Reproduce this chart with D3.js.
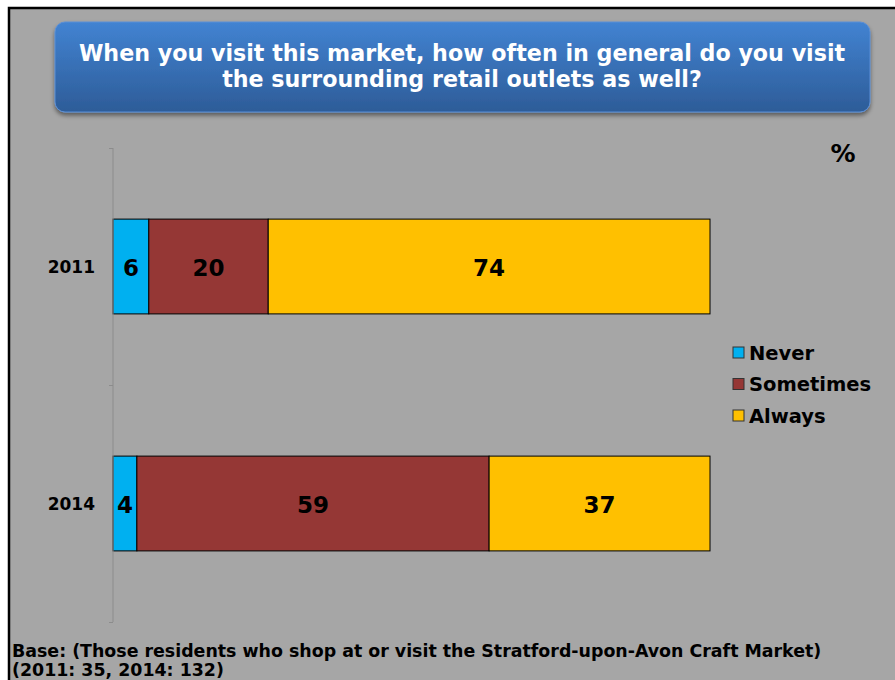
<!DOCTYPE html>
<html><head><meta charset="utf-8">
<script src="https://cdn.jsdelivr.net/npm/d3@7"></script>
<style>html,body{margin:0;padding:0;background:#fff;}svg{display:block;}</style>
</head><body>
<script>
const categories = ["2011", "2014"];
const seriesNames = ["Never", "Sometimes", "Always"];
const never = [6, 4];
const sometimes = [20, 59];
const always = [74, 37];
const seriesColors = ["#00B0F0", "#953735", "#FFC000"];
const titleLines = ["When you visit this market, how often in general do you visit", "the surrounding retail outlets as well?"];
const footLines = ["Base: (Those residents who shop at or visit the Stratford-upon-Avon Craft Market)", "(2011: 35, 2014: 132)"];

const W = 895, H = 680;
const svg = d3.select("body").append("svg").attr("width", W).attr("height", H);
const defs = svg.append("defs");
const grad = defs.append("linearGradient").attr("id", "tg").attr("x1", 0).attr("y1", 0).attr("x2", 0).attr("y2", 1);
grad.append("stop").attr("offset", "0%").attr("stop-color", "#4283D2");
grad.append("stop").attr("offset", "100%").attr("stop-color", "#2D5C98");
const sh = defs.append("filter").attr("id", "sh").attr("x", "-5%").attr("y", "-20%").attr("width", "110%").attr("height", "150%");
sh.append("feDropShadow").attr("dx", 0).attr("dy", 3).attr("stdDeviation", 2).attr("flood-color", "#000").attr("flood-opacity", 0.45);

const ff = "Verdana, 'DejaVu Sans', sans-serif";

// panel
svg.append("rect").attr("x", 9).attr("y", 8).attr("width", W).attr("height", H).attr("fill", "#A6A6A6")
  .attr("stroke", "#000").attr("stroke-width", 2.5);

// title box
svg.append("rect").attr("x", 55).attr("y", 22).attr("width", 815).attr("height", 90).attr("rx", 10)
  .attr("fill", "url(#tg)").attr("stroke", "#5B8FD6").attr("stroke-width", 1).attr("filter", "url(#sh)");
svg.append("g").selectAll("text").data(titleLines).join("text")
  .attr("x", 462).attr("y", (d, i) => 61 + i * 26).attr("text-anchor", "middle")
  .attr("font-family", ff).attr("font-weight", "bold").attr("font-size", 22.2).attr("fill", "#fff")
  .text(d => d);

// data
const data = categories.map((c, i) => ({ cat: c, Never: never[i], Sometimes: sometimes[i], Always: always[i] }));
const stack = d3.stack().keys(seriesNames)(data);

const x = d3.scaleLinear().domain([0, 100]).range([113, 710]);
const y = d3.scaleBand().domain(categories).range([148, 622]).paddingInner(0).paddingOuter(0);
const barH = y.bandwidth() * 0.4;
const color = d3.scaleOrdinal().domain(seriesNames).range(seriesColors);

const g = svg.append("g");
stack.forEach(s => {
  g.selectAll(null).data(s).join("rect")
    .attr("x", d => x(d[0])).attr("width", d => x(d[1]) - x(d[0]))
    .attr("y", d => y(d.data.cat) + (y.bandwidth() - barH) / 2).attr("height", barH)
    .attr("fill", color(s.key)).attr("stroke", "#000").attr("stroke-width", 1);
  g.selectAll(null).data(s).join("text")
    .attr("x", d => (x(d[0]) + x(d[1])) / 2).attr("y", d => y(d.data.cat) + y.bandwidth() / 2 + 9)
    .attr("text-anchor", "middle").attr("font-family", ff)
    .attr("font-weight", "bold").attr("font-size", 23).attr("fill", "#000")
    .text(d => d[1] - d[0]);
});

// axis
const ax = svg.append("g").attr("transform", "translate(113,0)")
  .call(d3.axisLeft(y).tickSize(0).tickPadding(18).tickFormat(d => d));
ax.select(".domain").attr("stroke", "#8C8C8C").attr("stroke-width", 1).attr("d", "M0,148V622");
ax.selectAll("text").attr("font-family", ff).attr("font-weight", "bold")
  .attr("font-size", 17).attr("fill", "#000").attr("dy", null).attr("y", 6.5);
const tickYs = [148, 385, 622];
svg.append("g").selectAll("line").data(tickYs).join("line")
  .attr("x1", 109).attr("x2", 113).attr("y1", d => d + 0.5).attr("y2", d => d + 0.5)
  .attr("stroke", "#8C8C8C");

// % label
svg.append("text").attr("x", 843).attr("y", 162).attr("text-anchor", "middle")
  .attr("font-family", ff).attr("font-weight", "bold").attr("font-size", 25).text("%");

// legend
const lg = svg.append("g").selectAll("g").data(seriesNames).join("g")
  .attr("transform", (d, i) => `translate(733,${347 + i * 31.5})`);
lg.append("rect").attr("width", 11).attr("height", 11).attr("fill", d => color(d)).attr("stroke", "#333").attr("stroke-width", 1);
lg.append("text").attr("x", 16).attr("y", 12.5).attr("font-family", ff)
  .attr("font-weight", "bold").attr("font-size", 19.5).attr("fill", "#000").text(d => d);

// footer
svg.append("g").selectAll("text").data(footLines).join("text")
  .attr("x", 12).attr("y", (d, i) => 657 + i * 19)
  .attr("font-family", ff).attr("font-weight", "bold").attr("font-size", 17.4).attr("fill", "#000")
  .text(d => d);
</script>
</body></html>
